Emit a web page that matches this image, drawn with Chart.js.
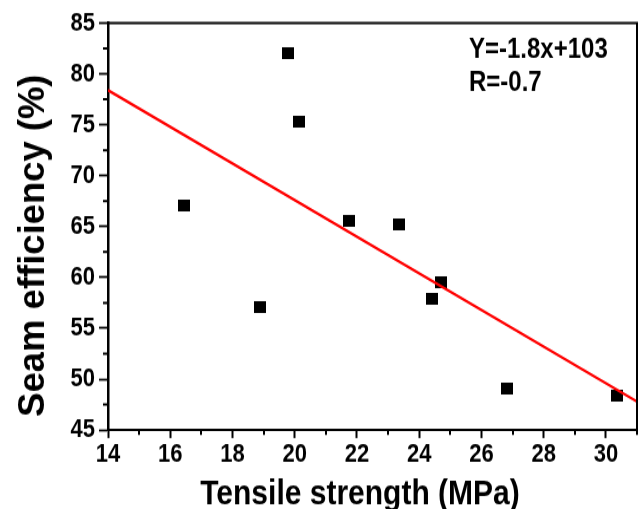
<!DOCTYPE html>
<html>
<head>
<meta charset="utf-8">
<script src="https://cdn.jsdelivr.net/npm/chart.js@4.4.0/dist/chart.umd.min.js"></script>
<style>
  html, body { margin: 0; padding: 0; background: #fff; }
  body { width: 644px; height: 509px; overflow: visible; }
  /* the figure is drawn on a shorter canvas and stretched to full height */
  #wrap { width: 644px; height: 431px; transform: scaleY(1.18097); transform-origin: 0 0; }
  canvas { display: block; }
</style>
</head>
<body>
<div id="wrap"><canvas id="c" width="644" height="431"></canvas></div>
<script>
// Measured samples: tensile strength (MPa) vs seam efficiency (%)
const tensileStrength = [16.43, 18.87, 19.77, 20.15, 21.75, 23.36, 24.42, 24.71, 26.82, 30.35];
const seamEfficiency  = [67.10, 57.10, 82.05, 75.27, 65.54, 65.25, 57.87, 59.55, 49.13, 48.34];

// Linear fit, drawn across the whole x range
const fitX = [14, 31];
const fitY = [78.4, 47.8];
const fitText = ['Y=-1.8x+103', 'R=-0.7'];

// Axis ranges and tick steps
const xRange = [14, 31];
const yRange = [45, 85];
const xMajorStep = 2, xMinorStep = 1;
const yMajorStep = 5, yMinorStep = 2.5;

const xTitle = 'Tensile strength (MPa)';
const yTitle = 'Seam efficiency (%)';

const FONT = '"Liberation Sans", Arial, Helvetica, sans-serif';

// square marker (slightly flattened so it ends up square after the vertical stretch)
const marker = document.createElement('canvas');
marker.width = 12; marker.height = 10;
(function () {
  const m = marker.getContext('2d');
  m.fillStyle = '#000';
  m.fillRect(0, 0, 12, 10);
})();

const points = tensileStrength.map((v, i) => ({ x: v, y: seamEfficiency[i] }));
const fitLine = fitX.map((v, i) => ({ x: v, y: fitY[i] }));

const decorations = {
  id: 'decorations',
  afterDraw(chart) {
    const { ctx, chartArea: a, scales: { x, y } } = chart;
    ctx.save();
    ctx.strokeStyle = '#000';
    ctx.fillStyle = '#000';

    // closing frame: top and right edges
    ctx.lineWidth = 2;
    ctx.beginPath();
    ctx.moveTo(a.left, a.top);
    ctx.lineTo(a.right, a.top);
    ctx.lineTo(a.right, a.bottom + 1);
    ctx.stroke();

    // minor ticks
    ctx.lineWidth = 2;
    ctx.beginPath();
    for (let v = xRange[0] + xMinorStep; v <= xRange[1] + 1e-9; v += xMajorStep) {
      const px = Math.round(x.getPixelForValue(v));
      ctx.moveTo(px, a.bottom);
      ctx.lineTo(px, a.bottom + 4.2);
    }
    for (let v = yRange[0] + yMinorStep; v < yRange[1]; v += yMajorStep) {
      const py = y.getPixelForValue(v);
      ctx.moveTo(a.left, py);
      ctx.lineTo(a.left - 5, py);
    }
    ctx.stroke();

    // axis titles
    ctx.font = 'bold 30px ' + FONT;
    ctx.textAlign = 'center';
    ctx.textBaseline = 'alphabetic';
    ctx.fillText(xTitle, 360, 427);
    ctx.save();
    ctx.translate(44, 208);
    ctx.rotate(-Math.PI / 2);
    ctx.scale(0.857, 1);
    ctx.font = 'bold 36px ' + FONT;
    ctx.fillText(yTitle, 0, 0);
    ctx.restore();

    // fit equation
    ctx.font = 'bold 24px ' + FONT;
    ctx.textAlign = 'left';
    const tx = x.getPixelForValue(25.6);
    ctx.fillText(fitText[0], tx, y.getPixelForValue(81.56));
    ctx.fillText(fitText[1], tx, y.getPixelForValue(78.32));
    ctx.restore();
  }
};

new Chart(document.getElementById('c'), {
  type: 'scatter',
  data: {
    datasets: [
      {
        label: 'fit',
        data: fitLine,
        showLine: true,
        borderColor: '#ff0000',
        borderWidth: 2.3,
        pointRadius: 0,
        order: 0
      },
      {
        label: 'samples',
        data: points,
        pointStyle: marker,
        pointRadius: 6,
        order: 1
      }
    ]
  },
  options: {
    responsive: false,
    animation: false,
    events: [],
    layout: { padding: { top: 19.5, right: 6, left: 0, bottom: 0 } },
    plugins: { legend: { display: false }, tooltip: { enabled: false } },
    scales: {
      x: {
        type: 'linear',
        min: xRange[0],
        max: xRange[1],
        afterFit(scale) { scale.height = 66.9; },
        border: { display: true, color: '#000', width: 2 },
        grid: { drawOnChartArea: false, drawTicks: true, tickLength: 6.8, tickColor: '#000', tickWidth: 2 },
        ticks: {
          stepSize: xMajorStep,
          includeBounds: false,
          padding: 1,
          color: '#000',
          font: { family: FONT, size: 22, weight: 'bold' },
          maxRotation: 0
        }
      },
      y: {
        type: 'linear',
        min: yRange[0],
        max: yRange[1],
        afterFit(scale) { scale.width = 108; },
        border: { display: true, color: '#000', width: 2.5 },
        grid: { drawOnChartArea: false, drawTicks: true, tickLength: 9, tickColor: '#000', tickWidth: 1.8 },
        ticks: {
          stepSize: yMajorStep,
          padding: 4,
          color: '#000',
          font: { family: FONT, size: 22, weight: 'bold' }
        }
      }
    }
  },
  plugins: [decorations]
});
</script>
</body>
</html>
